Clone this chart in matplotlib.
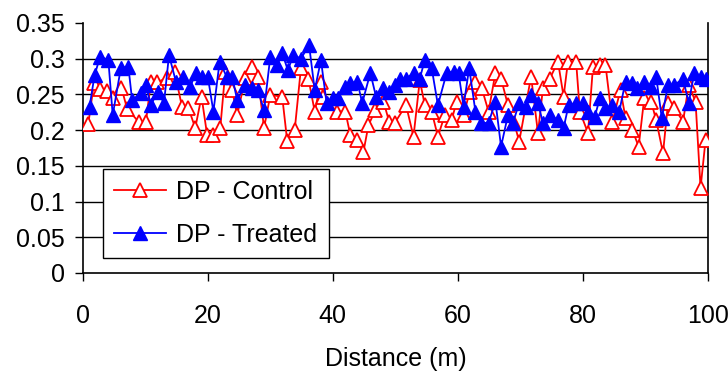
import matplotlib.pyplot as plt

plt.rcParams['font.family'] = ['Liberation Sans', 'DejaVu Sans']

# DP readings along the transect
dist_control = [0.9, 1.8, 2.7, 3.9, 4.8, 6.2, 7.1, 9.0, 10.1, 10.9,
                11.9, 13.5, 14.7, 15.9, 16.9, 18.0, 19.0, 19.9, 20.9, 22.0,
                22.8, 23.9, 24.7, 26.0, 27.1, 28.0, 29.0, 30.0, 31.9, 32.7,
                33.9, 34.9, 36.1, 37.1, 38.1, 38.5, 40.6, 42.0, 42.8, 43.9,
                44.9, 45.7, 46.8, 48.1, 49.0, 49.9, 51.7, 52.9, 53.9, 54.7,
                55.8, 56.8, 57.9, 59.0, 59.8, 60.9, 61.9, 62.8, 63.8, 64.9,
                66.0, 66.9, 68.0, 69.0, 69.8, 71.7, 72.8, 73.6, 74.7, 76.0,
                76.9, 77.6, 78.9, 79.5, 80.8, 81.6, 82.7, 83.6, 84.7, 86.0,
                86.8, 87.9, 88.9, 89.8, 90.9, 91.7, 92.8, 93.6, 94.6, 96.0,
                96.9, 98.0, 98.8, 99.6]
dp_control = [0.209, 0.266, 0.258, 0.255, 0.245, 0.259, 0.230, 0.211, 0.211, 0.267,
              0.267, 0.273, 0.281, 0.232, 0.231, 0.203, 0.247, 0.193, 0.193, 0.203,
              0.282, 0.256, 0.221, 0.273, 0.289, 0.275, 0.203, 0.249, 0.247, 0.185,
              0.200, 0.287, 0.272, 0.226, 0.268, 0.247, 0.226, 0.226, 0.193, 0.186,
              0.170, 0.207, 0.228, 0.240, 0.212, 0.210, 0.235, 0.191, 0.270, 0.235,
              0.226, 0.191, 0.221, 0.214, 0.240, 0.221, 0.254, 0.268, 0.259, 0.226,
              0.280, 0.272, 0.235, 0.210, 0.184, 0.275, 0.196, 0.259, 0.272, 0.296,
              0.247, 0.296, 0.296, 0.226, 0.196, 0.289, 0.291, 0.291, 0.212, 0.256,
              0.217, 0.200, 0.177, 0.245, 0.240, 0.214, 0.168, 0.238, 0.231, 0.212,
              0.263, 0.240, 0.119, 0.186]

dist_treated = [1.1, 1.9, 2.8, 4.1, 4.8, 6.1, 7.3, 7.9, 9.3, 10.1,
                10.9, 12.0, 13.0, 13.8, 14.9, 16.1, 17.2, 18.1, 19.0, 20.0,
                20.9, 21.9, 23.0, 23.9, 24.7, 26.0, 27.1, 28.0, 29.0, 30.0,
                31.1, 31.9, 32.8, 33.7, 34.9, 36.2, 37.1, 38.1, 39.0, 40.1,
                40.9, 42.0, 42.8, 43.9, 44.7, 46.0, 46.9, 48.0, 49.0, 49.9,
                50.8, 51.7, 52.9, 53.9, 54.7, 55.8, 56.8, 58.2, 59.3, 60.1,
                60.9, 61.8, 62.8, 63.7, 64.9, 66.0, 66.9, 68.0, 68.8, 69.8,
                70.9, 71.7, 72.8, 73.6, 74.7, 76.0, 76.9, 77.7, 78.9, 80.0,
                80.8, 81.9, 82.7, 83.6, 84.7, 85.8, 86.8, 87.9, 88.7, 89.8,
                90.9, 91.7, 92.6, 93.6, 94.6, 96.0, 96.9, 97.8, 98.9, 99.6]
dp_treated = [0.233, 0.277, 0.303, 0.298, 0.221, 0.287, 0.289, 0.242, 0.252, 0.263,
              0.235, 0.254, 0.238, 0.305, 0.268, 0.275, 0.261, 0.280, 0.275, 0.275,
              0.226, 0.296, 0.275, 0.275, 0.242, 0.263, 0.259, 0.256, 0.228, 0.303,
              0.291, 0.308, 0.284, 0.305, 0.300, 0.319, 0.256, 0.298, 0.238, 0.245,
              0.245, 0.261, 0.266, 0.268, 0.238, 0.280, 0.247, 0.259, 0.254, 0.263,
              0.272, 0.272, 0.280, 0.272, 0.298, 0.287, 0.235, 0.280, 0.282, 0.280,
              0.233, 0.287, 0.226, 0.210, 0.210, 0.240, 0.177, 0.221, 0.210, 0.238,
              0.233, 0.249, 0.238, 0.210, 0.221, 0.214, 0.203, 0.235, 0.238, 0.238,
              0.226, 0.219, 0.245, 0.231, 0.235, 0.226, 0.268, 0.266, 0.259, 0.268,
              0.261, 0.275, 0.217, 0.263, 0.263, 0.272, 0.238, 0.280, 0.275, 0.272]

x_ticks = [0, 20, 40, 60, 80, 100]
y_ticks = [0, 0.05, 0.1, 0.15, 0.2, 0.25, 0.3, 0.35]
y_ticklabels = ['0', '0.05', '0.1', '0.15', '0.2', '0.25', '0.3', '0.35']

fig = plt.figure(figsize=(7.28, 3.76), dpi=100)
ax = fig.add_axes([0.1136, 0.274, 0.859, 0.665])

# horizontal gridlines (no line at the top value)
for yv in y_ticks[1:-1]:
    ax.axhline(yv, color='black', lw=1.0, zorder=1)

ax.plot(dist_control, dp_control, color='#ff0000', lw=1.3, marker='^', ms=10,
        mfc='white', mec='#ff0000', mew=1.3, label='DP - Control', zorder=3)
ax.plot(dist_treated, dp_treated, color='#0000ff', lw=1.3, marker='^', ms=10.5,
        mfc='#0000ff', mec='#0000ff', label='DP - Treated', zorder=4)

ax.set_xlim(0, 100)
ax.set_ylim(0, 0.35)
ax.set_xticks(x_ticks)
ax.set_yticks(y_ticks)
ax.set_yticklabels(y_ticklabels)
ax.tick_params(axis='both', labelsize=18, direction='out', length=6, width=1)
ax.tick_params(axis='y', pad=7)
ax.tick_params(axis='x', pad=16)
ax.spines['top'].set_visible(False)
for s in ['left', 'bottom', 'right']:
    ax.spines[s].set_linewidth(1.2)

ax.set_xlabel('Distance (m)', fontsize=18, labelpad=14)

leg = ax.legend(loc='lower left', bbox_to_anchor=(0.032, 0.06), borderaxespad=0,
                fontsize=18, frameon=True, fancybox=False, edgecolor='black',
                framealpha=1, handlelength=2.1, borderpad=0.45, labelspacing=0.75,
                handletextpad=0.4)
leg.get_frame().set_linewidth(1.0)

fig.savefig('out.png', dpi=100)
